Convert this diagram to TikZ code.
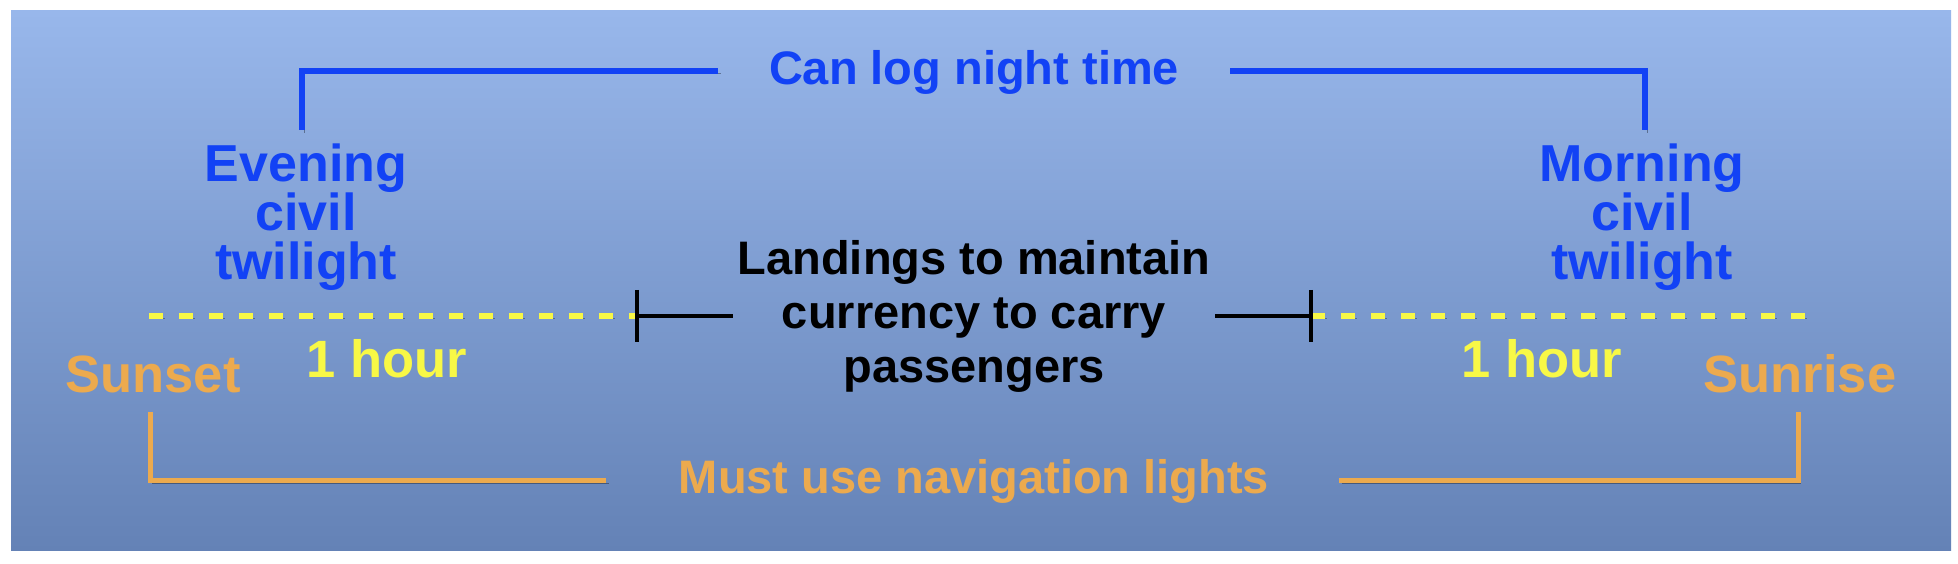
\documentclass[tikz,border=0pt]{standalone}
\usepackage{fontspec}
\setmainfont{Liberation Sans}
\definecolor{bgtop}{RGB}{152,183,235}
\definecolor{bgbot}{RGB}{100,130,182}
\definecolor{tblue}{RGB}{18,66,245}
\definecolor{torange}{RGB}{236,170,78}
\definecolor{tyellow}{RGB}{248,248,70}
\begin{document}
\begin{tikzpicture}[x=0.4pt,y=0.4pt,
  lbl/.style={font=\bfseries\fontsize{18.8}{21.6}\selectfont, inner sep=0pt, align=center},
  biglbl/.style={font=\bfseries\fontsize{21}{21}\selectfont, inner sep=0pt, align=center},
  twilbl/.style={font=\bfseries\fontsize{20.8}{19.6}\selectfont, inner sep=0pt, align=center},
  lineshadow/.style={preaction={draw=black,draw opacity=0.35,transform canvas={shift={(1pt,-1.2pt)}}}},
  blueline/.style={draw=tblue,line width=2.4pt,lineshadow},
  orangeline/.style={draw=torange,line width=2pt,lineshadow},
  blackline/.style={draw=black,line width=1.6pt},
  yellowdash/.style={draw=tyellow,line width=2.4pt,dash pattern=on 5.6pt off 6.4pt,
    preaction={draw=black,draw opacity=0.3,dash pattern=on 5.6pt off 6.4pt,transform canvas={shift={(0.8pt,-1pt)}}}}
]
\useasboundingbox (0,0) rectangle (1958,564);
\fill[white] (0,0) rectangle (1958,564);
\shade[top color=bgtop,bottom color=bgbot] (11,13) rectangle (1951,553);

% labels
\node[lbl,text=tblue] (night) at (974,492) {Can log night time};
\node[twilbl,text=tblue] (evening) at (306,347) {Evening\\civil\\twilight};
\node[twilbl,text=tblue] (morning) at (1642,347) {Morning\\civil\\twilight};
\node[lbl,text=black] (landings) at (974,248) {Landings to maintain\\currency to carry\\passengers};
\node[biglbl,text=tyellow] (hourL) at (387,205) {1 hour};
\node[biglbl,text=tyellow] (hourR) at (1542,205) {1 hour};
\node[biglbl,text=torange] (sunset) at (153,190) {Sunset};
\node[biglbl,text=torange] (sunrise) at (1800,190) {Sunrise};
\node[lbl,text=torange] (lights) at (974,83) {Must use navigation lights};

% coordinates
\coordinate (bEv) at (302,434);
\coordinate (bL) at (718,493);
\coordinate (bR) at (1230,493);
\coordinate (bMo) at (1645,434);
\coordinate (oSs) at (150,152);
\coordinate (oL) at (606,83);
\coordinate (oR) at (1339,83);
\coordinate (oSr) at (1798,152);
\coordinate (yL) at (149,248);
\coordinate (tL) at (637,248);
\coordinate (kL) at (733,248);
\coordinate (kR) at (1215,248);
\coordinate (tR) at (1311,248);
\coordinate (yR) at (1806,248);

% blue bracket
\draw[blueline] (bEv) |- (bL);
\draw[blueline] (bR) -| (bMo);

% orange bracket
\draw[orangeline] (oSs) |- (oL);
\draw[orangeline] (oR) -| (oSr);

% yellow dashed
\draw[yellowdash] (yL) -- (tL);
\draw[yellowdash] (tR) -- (yR);

% black markers
\draw[blackline] (tL) -- (kL);
\draw[blackline] ([yshift=10.4pt]tL) -- ([yshift=-10.4pt]tL);
\draw[blackline] (kR) -- (tR);
\draw[blackline] ([yshift=10.4pt]tR) -- ([yshift=-10.4pt]tR);
\end{tikzpicture}
\end{document}
